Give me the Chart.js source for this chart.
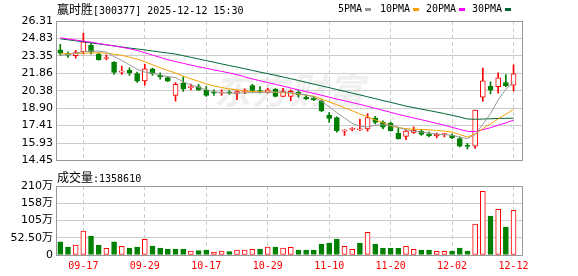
<!DOCTYPE html>
<html lang="zh">
<head>
<meta charset="UTF-8">
<title>赢时胜 日K</title>
<script src="https://cdn.jsdelivr.net/npm/chart.js@4.4.0/dist/chart.umd.min.js"></script>
<style>
  body { margin: 0; background: #fff; width: 578px; height: 276px; overflow: hidden; position: relative;
         font-family: "DejaVu Sans Mono", "Noto Sans CJK SC", monospace; font-size: 10px; color: #000; }
  canvas { position: absolute; left: 0; }
  #kline { top: 0; }
  #vol { top: 170px; }
  .txt { position: absolute; line-height: 12px; white-space: nowrap; }
  .cjk { font-family: "Noto Sans CJK SC", sans-serif; font-size: 12px; }
  .lg i { display: inline-block; width: 6px; height: 3px; margin-left: 3px; vertical-align: middle; }
  #wm { position: absolute; left: 214px; top: 62px; font: italic bold 36px "Noto Sans CJK SC", sans-serif;
        color: #efefef; letter-spacing: 2px; }
</style>
</head>
<body>
<div id="wm">东方财富</div>
<canvas id="kline" width="578" height="170"></canvas>
<canvas id="vol" width="578" height="106"></canvas>

<div class="txt" style="left:57px; top:3px"><span class="cjk">赢时胜</span>[300377] 2025-12-12 15:30</div>
<div class="txt lg" style="left:338px; top:3px">5PMA<i style="background:#999999"></i></div>
<div class="txt lg" style="left:380px; top:3px">10PMA<i style="background:#f4a100"></i></div>
<div class="txt lg" style="left:426px; top:3px">20PMA<i style="background:#ff00ff"></i></div>
<div class="txt lg" style="left:472px; top:3px">30PMA<i style="background:#006633"></i></div>
<div class="txt" style="left:57px; top:171px"><span class="cjk">成交量</span>:1358610</div>

<script>
// 交易日
const dates = ['09-12','09-15','09-16','09-17','09-18','09-19','09-22','09-23','09-24','09-25','09-26','09-29','09-30',
  '10-09','10-10','10-13','10-14','10-15','10-16','10-17','10-20','10-21','10-22','10-23','10-24','10-27','10-28','10-29','10-30','10-31',
  '11-03','11-04','11-05','11-06','11-07','11-10','11-11','11-12','11-13','11-14','11-17','11-18','11-19','11-20','11-21','11-24','11-25','11-26','11-27','11-28',
  '12-01','12-02','12-03','12-04','12-05','12-08','12-09','12-10','12-11','12-12'];
const labelIdx = [3, 11, 19, 27, 35, 43, 51, 59];

// K线
const open  = [23.85,23.57,23.35,23.71,24.24,23.49,23.12,22.79,21.96,22.11,21.83,21.22,22.25,21.69,21.50,19.98,21.00,20.64,20.72,20.45,
               20.25,20.17,20.23,20.14,20.31,20.81,20.40,20.23,20.50,19.90,19.90,20.25,19.84,19.76,19.48,18.29,18.10,16.94,17.09,17.05,
               17.13,18.04,17.68,17.60,16.77,16.50,16.82,16.94,16.72,16.54,16.64,16.58,16.30,15.70,15.67,19.84,20.75,20.73,21.08,20.86];
const high  = [24.32,23.68,23.82,25.29,24.46,23.55,23.43,22.85,22.47,22.33,21.97,22.62,22.30,21.89,21.55,21.08,21.56,20.94,20.92,20.73,
               20.45,20.45,20.40,20.37,20.53,20.92,20.73,20.59,20.55,20.59,20.45,20.37,19.98,19.90,19.60,18.51,18.15,17.08,17.24,17.96,
               18.43,18.20,17.82,17.72,17.20,17.00,17.30,17.10,16.86,16.77,16.75,16.72,16.44,15.90,18.74,22.30,21.14,21.91,21.75,22.58];
const low   = [23.41,23.22,23.14,23.49,23.49,22.98,22.99,21.77,21.77,21.69,21.08,20.86,21.69,21.36,21.15,19.48,20.31,20.45,20.40,19.90,
               19.98,19.98,20.06,19.62,20.12,20.25,20.17,20.17,19.85,19.88,19.53,19.82,19.62,19.53,18.60,17.68,16.85,16.58,16.96,16.99,
               16.94,17.55,17.13,16.94,16.25,16.22,16.75,16.58,16.44,16.36,16.44,16.30,15.60,15.42,15.47,19.48,20.11,20.17,20.73,20.36];
const close = [23.57,23.41,23.63,24.54,23.68,23.02,23.20,21.93,22.05,21.89,21.19,22.25,21.83,21.56,21.19,20.92,20.53,20.70,20.45,19.98,
               20.17,20.25,20.17,20.31,20.36,20.40,20.31,20.45,19.90,20.30,20.33,20.03,19.70,19.62,18.65,18.02,16.99,17.04,17.15,17.10,
               18.10,17.68,17.27,16.99,16.30,16.94,17.00,16.66,16.55,16.68,16.70,16.38,15.67,15.64,18.74,21.22,20.42,21.47,20.81,21.81];

// 均线
const ma5  = [23.37,23.45,23.57,23.70,23.76,23.74,23.66,23.28,22.95,22.58,22.20,21.96,21.87,21.72,21.58,21.50,21.13,20.88,20.67,20.46,
              20.30,20.21,20.17,20.17,20.19,20.21,20.23,20.24,20.26,20.26,20.21,20.13,20.03,19.84,19.47,19.01,18.51,18.06,17.60,17.35,
              17.31,17.44,17.48,17.44,17.27,17.06,16.94,16.86,16.77,16.69,16.65,16.58,16.44,16.30,16.65,17.52,18.43,19.59,20.50,21.14];
const ma10 = [23.53,23.53,23.55,23.57,23.59,23.61,23.57,23.49,23.39,23.24,23.06,22.85,22.58,22.33,22.10,21.89,21.62,21.39,21.18,20.96,
              20.79,20.65,20.53,20.45,20.36,20.31,20.28,20.26,20.24,20.21,20.17,20.09,20.01,19.90,19.67,19.43,19.18,18.93,18.68,18.39,
              18.16,17.89,17.66,17.39,17.23,17.15,17.10,17.08,17.05,17.00,16.94,16.86,16.65,16.44,16.69,17.15,17.56,17.97,18.39,18.79];
const ma20 = [24.88,24.78,24.69,24.59,24.51,24.40,24.29,24.19,24.07,23.95,23.81,23.61,23.41,23.21,23.01,22.86,22.71,22.56,22.41,22.29,
              22.15,22.02,21.89,21.75,21.56,21.38,21.23,21.07,20.92,20.77,20.61,20.45,20.30,20.15,19.99,19.83,19.67,19.52,19.37,19.21,
              19.05,18.88,18.71,18.54,18.36,18.21,18.06,17.91,17.76,17.60,17.44,17.26,17.09,16.92,16.90,17.06,17.23,17.45,17.64,17.87];
const ma30 = [24.79,24.71,24.62,24.54,24.45,24.36,24.28,24.19,24.10,24.01,23.93,23.85,23.76,23.67,23.58,23.50,23.36,23.22,23.08,22.94,
              22.80,22.66,22.52,22.39,22.25,22.11,21.96,21.83,21.69,21.55,21.40,21.25,21.09,20.94,20.79,20.64,20.48,20.33,20.17,20.02,
              19.86,19.70,19.54,19.39,19.23,19.07,18.94,18.81,18.69,18.56,18.43,18.28,18.14,17.97,17.95,17.97,17.99,18.02,18.03,18.04];

// 成交量(万) 和涨跌
const volume = [40,24.3,30.4,73,57.8,30.4,20.3,40,26.4,21,24.3,48,27.4,21.3,18.3,18.3,18.3,12.2,13.2,15.2,
                9.1,12.2,10.1,15.2,15.2,17.2,18.3,24.3,24.3,21.3,23.4,15.2,15.2,15.2,33.5,36.5,48.7,26.4,17.2,36.5,
                69,33.5,20.3,20.3,20.3,26.4,17.2,15.2,15.2,11.2,11.2,12.2,21.3,12.2,94.3,193.8,118.7,139,85.2,135.86];
const volUp = [0,0,1,1,0,0,1,0,1,0,0,1,0,0,0,0,0,1,0,0,
               1,1,0,1,1,1,0,1,0,1,1,0,0,0,0,0,0,1,1,0,
               1,0,0,0,0,1,1,0,0,1,1,0,0,0,1,1,0,1,0,1];

const priceTicks = [14.45, 15.93, 17.41, 18.90, 20.38, 21.86, 23.35, 24.83, 26.31];
const priceTickLabels = ['14.45','15.93','17.41','18.90','20.38','21.86','23.35','24.83','26.31'];
const volTicks = [0, 52.5, 105, 157.5, 210];
const volTickLabels = ['0','52.50万','105万','158万','210万'];

const RED = '#ff0000', GREEN = '#008000';
const xMin = -0.56, xMax = 60.1;
const tickFont = { family: '"DejaVu Sans", "Noto Sans CJK SC", sans-serif', size: 11 };

// 外框
const frame = {
  id: 'frame',
  afterDatasetsDraw(chart) {
    const a = chart.chartArea, c = chart.ctx;
    c.save();
    c.strokeStyle = '#999';
    c.lineWidth = 1;
    c.strokeRect(Math.round(a.left) + 0.5, Math.round(a.top) + 0.5, Math.round(a.right - a.left), Math.round(a.bottom - a.top));
    c.restore();
  }
};

const isUp = i => close[i] >= open[i];

function maLine(arr, color) {
  return { type: 'line', data: arr.map((v, i) => ({ x: i, y: v })), borderColor: color, borderWidth: 1,
           pointRadius: 0, order: 0 };
}

function xScale(showLabels, h) {
  return {
    type: 'linear', min: xMin, max: xMax, offset: false,
    afterBuildTicks: s => { s.ticks = labelIdx.map(v => ({ value: v })); },
    ticks: { display: showLabels, callback: v => dates[v], color: RED, padding: 5, maxRotation: 0, autoSkip: false,
             font: { family: '"DejaVu Sans Mono", monospace', size: 10 } },
    grid: { color: '#ccc', drawTicks: false, offset: false },
    border: { display: false, dash: [4, 3] },
    afterFit: s => { s.height = h; }
  };
}

// K线图
new Chart(document.getElementById('kline'), {
  type: 'bar',
  data: {
    datasets: [
      maLine(ma5, '#999999'),
      maLine(ma10, '#f4a100'),
      maLine(ma20, '#ff00ff'),
      maLine(ma30, '#006633'),
      {
        type: 'bar', data: open.map((o, i) => ({ x: i, y: [o, close[i]] })),
        backgroundColor: c => isUp(c.dataIndex) ? '#fff' : GREEN,
        borderColor: c => isUp(c.dataIndex) ? RED : GREEN,
        borderWidth: 1, borderSkipped: false, barThickness: 5, minBarLength: 1, grouped: false, order: 1
      },
      {
        type: 'bar', data: low.map((l, i) => ({ x: i, y: [l, high[i]] })),
        backgroundColor: c => isUp(c.dataIndex) ? RED : GREEN,
        borderWidth: 0, barThickness: 1, grouped: false, order: 2
      }
    ]
  },
  options: {
    responsive: false, animation: false, devicePixelRatio: 1,
    layout: { padding: { top: 21, bottom: 6, left: 0, right: 56 } },
    plugins: { legend: { display: false }, tooltip: { enabled: false } },
    scales: {
      x: xScale(false, 0),
      y: {
        min: 14.45, max: 26.31,
        afterBuildTicks: s => { s.ticks = priceTicks.map(v => ({ value: v })); },
        ticks: { callback: (v, i) => priceTickLabels[i], color: '#000', font: tickFont, padding: 3, autoSkip: false },
        grid: { color: '#ccc', drawTicks: false },
        border: { display: false },
        afterFit: s => { s.width = 56; }
      }
    }
  },
  plugins: [frame]
});

// 成交量
new Chart(document.getElementById('vol'), {
  type: 'bar',
  data: {
    datasets: [{
      data: volume.map((v, i) => ({ x: i, y: v })),
      backgroundColor: c => volUp[c.dataIndex] ? '#fff' : GREEN,
      borderColor: c => volUp[c.dataIndex] ? RED : GREEN,
      borderWidth: 1, borderSkipped: false, barThickness: 5
    }]
  },
  options: {
    responsive: false, animation: false, devicePixelRatio: 1,
    layout: { padding: { top: 16, bottom: 0, left: 0, right: 56 } },
    plugins: { legend: { display: false }, tooltip: { enabled: false } },
    scales: {
      x: xScale(true, 21),
      y: {
        min: 0, max: 210,
        afterBuildTicks: s => { s.ticks = volTicks.map(v => ({ value: v })); },
        ticks: { callback: (v, i) => volTickLabels[i], color: '#000', font: tickFont, padding: 3, autoSkip: false },
        grid: { color: '#ccc', drawTicks: false },
        border: { display: false },
        afterFit: s => { s.width = 56; }
      }
    }
  },
  plugins: [frame]
});
</script>
</body>
</html>
